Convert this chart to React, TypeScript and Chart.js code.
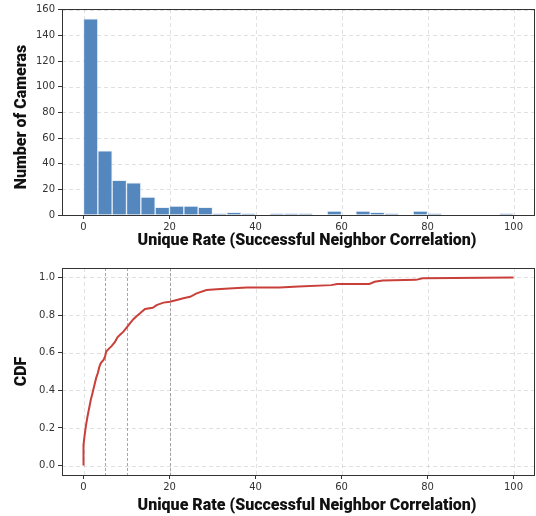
import React, { useEffect, useRef } from 'react';
import { Chart, registerables } from 'chart.js';

Chart.register(...registerables);

// ---------- data ----------
const binCenters = [
  1.667, 5, 8.333, 11.667, 15, 18.333, 21.667, 25, 28.333, 31.667,
  35, 38.333, 41.667, 45, 48.333, 51.667, 55, 58.333, 61.667, 65,
  68.333, 71.667, 75, 78.333, 81.667, 85, 88.333, 91.667, 95, 98.333,
];
const binCounts = [
  153, 50, 27, 25, 14, 6, 7, 7, 6, 1,
  2, 1, 0, 1, 1, 1, 0, 3, 0, 3,
  2, 1, 0, 3, 1, 0, 0, 0, 0, 1,
];

const cdfX = [
  0, 0, 0.24, 0.55, 0.94, 1.4, 1.71, 2.1, 2.56, 2.95, 3.33, 3.72, 4.03, 4.65,
  5.03, 5.27, 5.8, 6.58, 7.36, 7.9, 8.5, 9.28, 10.07, 10.8, 11.6, 12.4, 13.15,
  14.3, 16.1, 17.0, 18.6, 20.1, 21.7, 23.2, 24.8, 26.3, 28.6, 31, 34.8, 38,
  45.6, 50, 57.6, 59, 66.5, 67.7, 69.6, 77.3, 78.9, 100,
];
const cdfY = [
  0, 0.11, 0.157, 0.21, 0.262, 0.315, 0.351, 0.386, 0.43, 0.466, 0.492, 0.527, 0.545, 0.562,
  0.58, 0.606, 0.619, 0.636, 0.659, 0.682, 0.695, 0.712, 0.735, 0.756, 0.778, 0.795, 0.809,
  0.832, 0.839, 0.853, 0.866, 0.871, 0.88, 0.889, 0.897, 0.915, 0.933, 0.937, 0.942, 0.946,
  0.946, 0.952, 0.959, 0.965, 0.965, 0.977, 0.984, 0.987, 0.995, 1.0,
];

const xTickValues = [0, 20, 40, 60, 80, 100];
const countTickValues = [0, 20, 40, 60, 80, 100, 120, 140, 160];
const cdfTickValues = [0, 0.2, 0.4, 0.6, 0.8, 1.0];
const thresholdLines = [5, 10, 20];

const xTitle = 'Unique Rate (Successful Neighbor Correlation)';
const histYTitle = 'Number of Cameras';
const cdfYTitle = 'CDF';

// ---------- styles ----------
const TICK_FONT = { family: "'DejaVu Sans', sans-serif", size: 10 };
const TITLE_FONT_CSS = "normal 900 16px Roboto, 'Liberation Sans', sans-serif";
const TICK_COLOR = '#333';

const frameGridPlugin = {
  id: 'frameGrid',
  beforeDatasetsDraw(chart: any, _args: any, opts: any) {
    const { ctx, chartArea: a, scales } = chart;
    ctx.save();
    ctx.lineWidth = 1;
    ctx.strokeStyle = 'rgba(200,200,200,0.55)';
    ctx.setLineDash([4, 3]);
    for (const v of opts.xTicks || []) {
      const x = Math.round(scales.x.getPixelForValue(v)) + 0.5;
      ctx.beginPath();
      ctx.moveTo(x, a.top);
      ctx.lineTo(x, a.bottom);
      ctx.stroke();
    }
    for (const v of opts.yTicks || []) {
      const y = Math.round(scales.y.getPixelForValue(v)) + 0.5;
      ctx.beginPath();
      ctx.moveTo(a.left, y);
      ctx.lineTo(a.right, y);
      ctx.stroke();
    }
    ctx.strokeStyle = 'rgba(130,130,130,0.7)';
    ctx.setLineDash([3, 2]);
    for (const v of opts.vlines || []) {
      const x = Math.round(scales.x.getPixelForValue(v)) + 0.5;
      ctx.beginPath();
      ctx.moveTo(x, a.top);
      ctx.lineTo(x, a.bottom);
      ctx.stroke();
    }
    ctx.restore();
  },
  afterDatasetsDraw(chart: any) {
    const { ctx, chartArea: a } = chart;
    ctx.save();
    ctx.setLineDash([]);
    ctx.lineWidth = 1;
    ctx.strokeStyle = '#333';
    ctx.strokeRect(Math.round(a.left) + 0.5, Math.round(a.top) + 0.5, Math.round(a.right - a.left) - 1, Math.round(a.bottom - a.top));
    ctx.restore();
  },
  afterDraw(chart: any, _args: any, opts: any) {
    const { ctx, chartArea: a } = chart;
    ctx.save();
    ctx.fillStyle = '#111';
    ctx.font = TITLE_FONT_CSS;
    ctx.textAlign = 'center';
    ctx.textBaseline = 'middle';
    ctx.fillText(opts.xTitle, (a.left + a.right) / 2 + opts.xTitleShift, opts.xTitleY);
    ctx.translate(opts.yTitleX, (a.top + a.bottom) / 2 + opts.yTitleShift);
    ctx.rotate(-Math.PI / 2);
    ctx.fillText(opts.yTitle, 0, 0);
    ctx.restore();
  },
};

function xScale(height: number) {
  return {
    type: 'linear' as const,
    min: -5,
    max: 105,
    offset: false,
    afterBuildTicks: (s: any) => {
      s.ticks = xTickValues.map((v) => ({ value: v }));
    },
    afterFit: (s: any) => {
      s.height = height;
    },
    grid: {
      display: true,
      drawOnChartArea: false,
      drawTicks: true,
      tickLength: 4,
      tickColor: TICK_COLOR,
      tickWidth: 1,
      offset: false,
    },
    border: { display: false },
    ticks: {
      color: TICK_COLOR,
      font: TICK_FONT,
      padding: 2,
      maxRotation: 0,
      autoSkip: false,
    },
    title: { display: false },
  };
}

function yScale(min: number, max: number, ticks: number[], fmt: (v: number) => string) {
  return {
    type: 'linear' as const,
    min,
    max,
    afterBuildTicks: (s: any) => {
      s.ticks = ticks.map((v) => ({ value: v }));
    },
    afterFit: (s: any) => {
      s.width = 62;
    },
    grid: {
      display: true,
      drawOnChartArea: false,
      drawTicks: true,
      tickLength: 4,
      tickColor: TICK_COLOR,
      tickWidth: 1,
    },
    border: { display: false },
    ticks: {
      color: TICK_COLOR,
      font: TICK_FONT,
      padding: 3,
      autoSkip: false,
      callback: (v: any) => fmt(Number(v)),
    },
    title: { display: false },
  };
}

function HistChart() {
  const ref = useRef<HTMLCanvasElement>(null);
  useEffect(() => {
    const chart = new Chart(ref.current!, {
      type: 'bar',
      data: {
        datasets: [
          {
            data: binCenters.map((x, i) => ({ x, y: binCounts[i] })),
            backgroundColor: '#5387be',
            borderColor: 'rgba(210,225,242,0.45)',
            borderWidth: 1,
            barPercentage: 1,
            categoryPercentage: 1,
          },
        ],
      },
      options: {
        responsive: false,
        animation: false,
        devicePixelRatio: 1,
        layout: { padding: { top: 7, right: 1, left: 0, bottom: 0 } },
        plugins: {
          legend: { display: false },
          tooltip: { enabled: false },
          frameGrid: {
            xTicks: xTickValues,
            yTicks: countTickValues,
            vlines: [],
            xTitle,
            yTitle: histYTitle,
            xTitleShift: 8.5,
            xTitleY: 241,
            yTitleX: 22,
            yTitleShift: 5,
          },
        } as any,
        scales: {
          x: xScale(37),
          y: yScale(0, 160.65, countTickValues, (v) => String(v)),
        } as any,
      },
      plugins: [frameGridPlugin],
    });
    return () => chart.destroy();
  }, []);
  return <canvas ref={ref} width={536} height={252} style={{ display: 'block', width: 536, height: 252 }} />;
}

function CdfChart() {
  const ref = useRef<HTMLCanvasElement>(null);
  useEffect(() => {
    const chart = new Chart(ref.current!, {
      type: 'line',
      data: {
        datasets: [
          {
            data: cdfX.map((x, i) => ({ x, y: cdfY[i] })),
            borderColor: '#c9403a',
            borderWidth: 2,
            pointRadius: 0,
            fill: false,
            tension: 0,
          },
        ],
      },
      options: {
        responsive: false,
        animation: false,
        devicePixelRatio: 1,
        layout: { padding: { top: 16, right: 1, left: 0, bottom: 0 } },
        plugins: {
          legend: { display: false },
          tooltip: { enabled: false },
          frameGrid: {
            xTicks: xTickValues,
            yTicks: cdfTickValues,
            vlines: thresholdLines,
            xTitle,
            yTitle: cdfYTitle,
            xTitleShift: 8.5,
            xTitleY: 254,
            yTitleX: 22,
            yTitleShift: 0,
          },
        } as any,
        scales: {
          x: xScale(41),
          y: yScale(-0.05, 1.05, cdfTickValues, (v) => v.toFixed(1)),
        } as any,
      },
      plugins: [frameGridPlugin],
    });
    return () => chart.destroy();
  }, []);
  return <canvas ref={ref} width={536} height={264} style={{ display: 'block', width: 536, height: 264 }} />;
}

export default function App() {
  return (
    <div style={{ position: 'fixed', left: 0, top: 0, width: 536, height: 516, background: '#fff' }}>
      <HistChart />
      <CdfChart />
    </div>
  );
}
